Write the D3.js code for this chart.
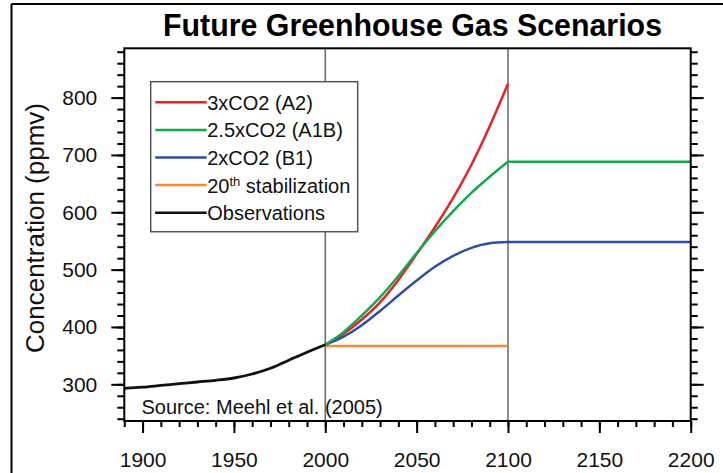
<!DOCTYPE html>
<html>
<head>
<meta charset="utf-8">
<script src="https://cdn.jsdelivr.net/npm/d3@7"></script>
<style>
  body { margin: 0; background: #fff; }
  svg { display: block; font-family: "Liberation Sans", Arial, Helvetica, sans-serif; }
</style>
</head>
<body>
<div id="chart"></div>
<script>
// observed CO2, 1890-2000
const obsYears = [1890, 1900, 1910, 1920, 1930, 1940, 1950, 1960, 1970, 1980, 1990, 2000];
const obsValues = [293, 295, 298, 301, 304, 307, 311, 318, 328, 342, 356, 369];

// scenarios, 2000-2100
const scenYears = [2000, 2010, 2020, 2030, 2040, 2050, 2060, 2070, 2080, 2090, 2100];
const a2Values = [369, 388, 413, 443, 482, 527, 574, 625, 683, 750, 824];
const a1bValues = [369, 391, 420, 452, 489, 529, 567, 602, 634, 662, 688];
const b1Values = [369, 383, 403, 428, 455, 481, 505, 524, 538, 546, 548];

// stabilization after 2100 (A1B, B1) and 20th century commitment
const stabYears = [2100, 2200];
const a1bStab = [688, 688];
const b1Stab = [548, 548];
const commitYears = [2000, 2100];
const commitValues = [367, 367];

const xTicks = [1900, 1950, 2000, 2050, 2100, 2150, 2200];
const yTicks = [300, 400, 500, 600, 700, 800];
const markerYears = [2000, 2100];

const legendItems = [
    { label: '3xCO2 (A2)', color: '#ea2127' },
    { label: '2.5xCO2 (A1B)', color: '#12a84b' },
    { label: '2xCO2 (B1)', color: '#2f4ea6' },
    { label: '20|th| stabilization', color: '#f7873b' },
    { label: 'Observations', color: '#111' }
];

const width = 723, height = 473;
const plot = { left: 124.3, right: 690.7, top: 48.3, bottom: 421 };

const svg = d3.select('#chart').append('svg')
    .attr('width', width)
    .attr('height', height);

// outer border of the figure (left and top only are visible)
svg.append('line').attr('x1', 11.5).attr('y1', 4).attr('x2', 11.5).attr('y2', height)
    .attr('stroke', '#000').attr('stroke-width', 2);
svg.append('line').attr('x1', 11.5).attr('y1', 4).attr('x2', width).attr('y2', 4)
    .attr('stroke', '#000').attr('stroke-width', 2);

const x = d3.scaleLinear().domain([1890, 2200]).range([plot.left, plot.right]);
const y = d3.scaleLinear().domain([236, 886]).range([plot.bottom, plot.top]);

// title
svg.append('text')
    .attr('x', 163)
    .attr('y', 36)
    .attr('textLength', 499)
    .attr('lengthAdjust', 'spacingAndGlyphs')
    .style('font-size', '32px')
    .style('font-weight', 'bold')
    .text('Future Greenhouse Gas Scenarios');

// grey lines at 2000 and 2100
svg.selectAll('.marker')
    .data(markerYears)
    .enter().append('line')
    .attr('x1', d => x(d)).attr('x2', d => x(d))
    .attr('y1', plot.top).attr('y2', plot.bottom)
    .attr('stroke', '#666')
    .attr('stroke-width', 1.5);

// axes: majors with labels, minors without
const fontAxis = g => g.selectAll('text')
    .style('font-size', '21px')
    .attr('fill', '#111');

const cleanAxis = g => {
    g.select('.domain').remove();
    g.selectAll('line').attr('stroke', '#000').attr('stroke-width', 2);
};

const xMinor = d3.range(1890, 2201, 10);
const yMinor = d3.range(240, 881, 20);

svg.append('g')
    .attr('transform', `translate(0,${plot.bottom})`)
    .call(d3.axisBottom(x).tickValues(xMinor).tickSize(6).tickFormat(''))
    .call(cleanAxis);
svg.append('g')
    .attr('transform', `translate(0,${plot.bottom})`)
    .call(d3.axisBottom(x).tickValues(xTicks).tickSize(12).tickPadding(19).tickFormat(d3.format('d')))
    .call(cleanAxis)
    .call(fontAxis);

svg.append('g')
    .attr('transform', `translate(${plot.left},0)`)
    .call(d3.axisLeft(y).tickValues(yMinor).tickSize(7).tickFormat(''))
    .call(cleanAxis);
svg.append('g')
    .attr('transform', `translate(${plot.left},0)`)
    .call(d3.axisLeft(y).tickValues(yTicks).tickSize(13).tickPadding(14))
    .call(cleanAxis)
    .call(fontAxis);

svg.append('g')
    .attr('transform', `translate(${plot.right},0)`)
    .call(d3.axisRight(y).tickValues(yMinor).tickSize(7).tickFormat(''))
    .call(cleanAxis);
svg.append('g')
    .attr('transform', `translate(${plot.right},0)`)
    .call(d3.axisRight(y).tickValues(yTicks).tickSize(13).tickFormat(''))
    .call(cleanAxis);

// y axis title
svg.append('text')
    .attr('transform', `translate(44,228) rotate(-90)`)
    .attr('text-anchor', 'middle')
    .style('font-size', '26px')
    .attr('fill', '#111')
    .text('Concentration (ppmv)');

// lines
const line = d3.line()
    .x(d => x(d[0]))
    .y(d => y(d[1]))
    .curve(d3.curveMonotoneX);

const drawLine = (years, values, color, w) => {
    svg.append('path')
        .datum(d3.zip(years, values))
        .attr('fill', 'none')
        .attr('stroke', color)
        .attr('stroke-width', w)
        .attr('stroke-linejoin', 'round')
        .attr('d', line);
};

drawLine(commitYears, commitValues, legendItems[3].color, 2.5);
drawLine(scenYears, a2Values, legendItems[0].color, 2.5);
drawLine(scenYears, b1Values, legendItems[2].color, 2.5);
drawLine(stabYears, b1Stab, legendItems[2].color, 2.5);
drawLine(scenYears, a1bValues, legendItems[1].color, 2.5);
drawLine(stabYears, a1bStab, legendItems[1].color, 2.5);
drawLine(obsYears, obsValues, legendItems[4].color, 2.8);

// plot frame
svg.append('rect')
    .attr('x', plot.left).attr('y', plot.top)
    .attr('width', plot.right - plot.left)
    .attr('height', plot.bottom - plot.top)
    .attr('fill', 'none')
    .attr('stroke', '#000')
    .attr('stroke-width', 2);

// source note
svg.append('text')
    .attr('x', 141.5)
    .attr('y', 414)
    .style('font-size', '20px')
    .attr('fill', '#111')
    .text('Source: Meehl et al. (2005)');

// legend
const legend = svg.append('g').attr('transform', 'translate(150.7,81.7)');
legend.append('rect')
    .attr('width', 207).attr('height', 150)
    .attr('fill', '#fff')
    .attr('stroke', '#555')
    .attr('stroke-width', 1.5);

legendItems.forEach((item, i) => {
    const ly = 20.6 + i * 27.6;
    legend.append('line')
        .attr('x1', 4.5).attr('x2', 56)
        .attr('y1', ly).attr('y2', ly)
        .attr('stroke', item.color)
        .attr('stroke-width', 2.5);
    const t = legend.append('text')
        .attr('x', 56.5)
        .attr('y', ly + 7.5)
        .style('font-size', '20px')
        .attr('fill', '#111');
    // "20|th| stabilization" -> superscript part between bars
    const parts = item.label.split('|');
    if (parts.length === 3) {
        t.append('tspan').text(parts[0]);
        t.append('tspan').attr('dy', -7).style('font-size', '13px').text(parts[1]);
        t.append('tspan').attr('dy', 7).text(parts[2]);
    } else {
        t.text(item.label);
    }
});
</script>
</body>
</html>
